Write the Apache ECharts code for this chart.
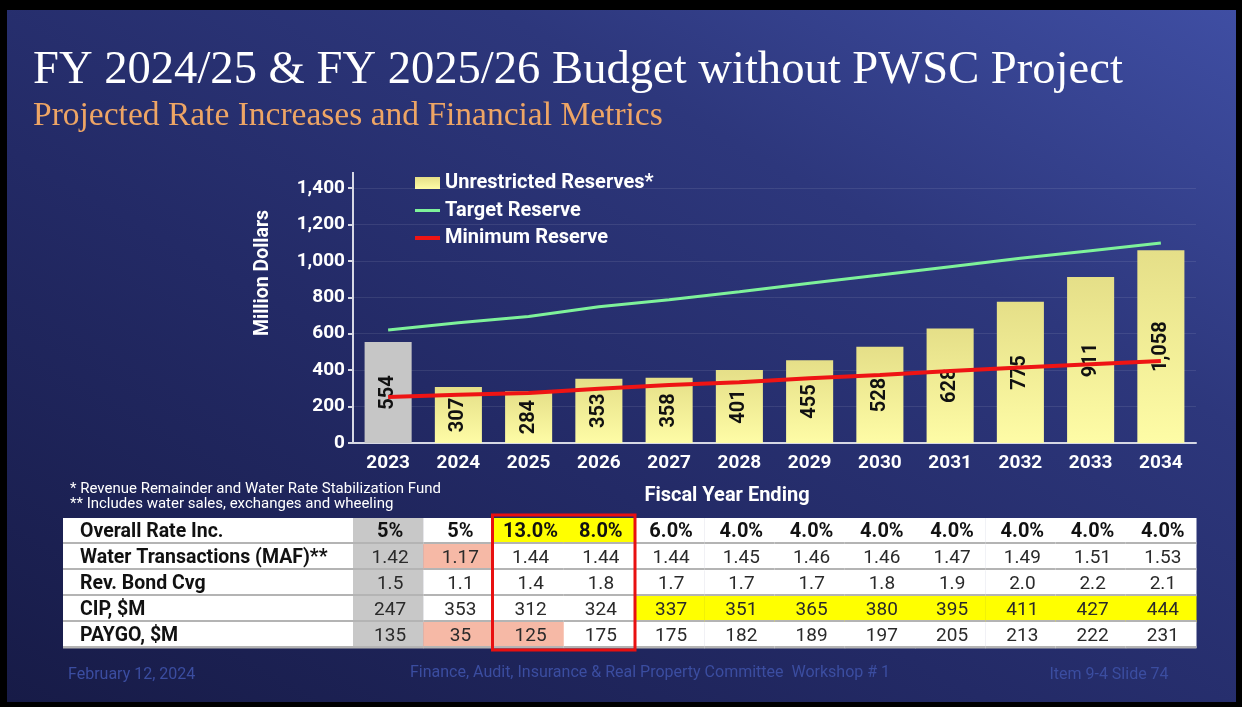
<!DOCTYPE html>
<html>
<head>
<meta charset="utf-8">
<title>Budget without PWSC Project</title>
<script src="https://cdn.jsdelivr.net/npm/echarts@6/dist/echarts.min.js"></script>
<style>
  html, body { margin: 0; padding: 0; background: #000; }
  #wrap { position: relative; width: 1242px; height: 707px; background: #000; overflow: hidden; }
  #slide {
    position: absolute; left: 7px; top: 10px; width: 1229px; height: 692px;
    background: linear-gradient(to top right, #171b47 0%, #232a66 40%, #2d377c 70%, #3f4ea3 100%);
  }
  #main { position: absolute; left: 0; top: 0; width: 1242px; height: 707px; }
</style>
</head>
<body>
<div id="wrap">
  <div id="slide"></div>
  <div id="main"></div>
</div>
<script>
// fiscal years on the x axis (and table columns)
const years = ["2023", "2024", "2025", "2026", "2027", "2028", "2029", "2030", "2031", "2032", "2033", "2034"];

// million dollars
const unrestrictedReserves = [554, 307, 284, 353, 358, 401, 455, 528, 628, 775, 911, 1058];
const targetReserve = [620, 660, 694, 748, 786, 831, 877, 922, 968, 1014, 1056, 1098];
const minimumReserve = [253, 265, 274, 298, 318, 333, 355, 373, 395, 415, 433, 450];

const yTicks = { min: 0, max: 1400, interval: 200 };

// table below the chart
const rowNames = ["Overall Rate Inc.", "Water Transactions (MAF)**", "Rev. Bond Cvg", "CIP, $M", "PAYGO, $M"];
const rateIncrease = ["5%", "5%", "13.0%", "8.0%", "6.0%", "4.0%", "4.0%", "4.0%", "4.0%", "4.0%", "4.0%", "4.0%"];
const waterTransactions = ["1.42", "1.17", "1.44", "1.44", "1.44", "1.45", "1.46", "1.46", "1.47", "1.49", "1.51", "1.53"];
const bondCoverage = ["1.5", "1.1", "1.4", "1.8", "1.7", "1.7", "1.7", "1.8", "1.9", "2.0", "2.2", "2.1"];
const cip = [247, 353, 312, 324, 337, 351, 365, 380, 395, 411, 427, 444];
const paygo = [135, 35, 125, 175, 175, 182, 189, 197, 205, 213, 222, 231];
const tableRows = [rateIncrease, waterTransactions, bondCoverage, cip, paygo];

// budget years boxed in red
const budgetYears = ["2025", "2026"];

// cell shading
const GRAY = "#c8c8c8", SALMON = "#f6b9a6", YELLOW = "#ffff00";
function cellFill(row, col) {
  if (col === 0) return GRAY;
  if (row === 0 && (col === 2 || col === 3)) return YELLOW;
  if (row === 3 && col >= 4) return YELLOW;
  if ((row === 1 && col === 1) || (row === 4 && (col === 1 || col === 2))) return SALMON;
  return "#ffffff";
}

const TABLE_LEFT = 63;
const FONT = "Roboto";

const fmt = v => String(v).replace(/\B(?=(\d{3})+(?!\d))/g, ",");

const cells = [];
tableRows.forEach((r, ri) => r.forEach((_, ci) => cells.push([ci, ri])));

function renderCell(params, api) {
  const col = api.value(0), row = api.value(1);
  const c = api.coord([col, row]);
  const s = api.size([1, 1]);
  const x0 = c[0] - s[0] / 2, y0 = c[1] - s[1] / 2;
  const kids = [];
  if (col === 0) {
    kids.push({ type: "rect", shape: { x: TABLE_LEFT, y: y0, width: x0 - TABLE_LEFT + 1, height: s[1] }, style: { fill: "#fff" } });
    kids.push({ type: "text", style: { text: rowNames[row], x: TABLE_LEFT + 17, y: c[1] + 1, align: "left", verticalAlign: "middle", font: "bold 19.5px " + FONT, fill: "#111" } });
    kids.push({ type: "rect", shape: { x: TABLE_LEFT, y: y0 + s[1] - 2, width: x0 - TABLE_LEFT, height: 2.5 }, style: { fill: "#b4b4b4" } });
  }
  kids.push({ type: "rect", shape: { x: x0, y: y0, width: s[0] + 0.5, height: s[1] }, style: { fill: cellFill(row, col) } });
  kids.push({
    type: "text",
    style: {
      text: String(tableRows[row][col]), x: c[0] + 2, y: c[1] + 1, align: "center", verticalAlign: "middle",
      font: (row === 0 ? "bold 20px " : "19px ") + FONT, fill: row === 0 ? "#111" : "#2a2a2a"
    }
  });
  kids.push({ type: "rect", shape: { x: x0, y: y0 + s[1] - 2, width: s[0] + 0.5, height: 2.5 }, style: { fill: "#b4b4b4" } });
  return { type: "group", children: kids };
}

function renderBox(params, api) {
  const a = api.coord([api.value(0), api.value(1)]);
  const b = api.coord([api.value(2), api.value(3)]);
  const s = api.size([1, 1]);
  const x = a[0] - s[0] / 2, y = a[1] - s[1] / 2;
  return {
    type: "rect",
    shape: { x: x - 1, y: y - 3, width: b[0] - a[0] + s[0] + 2, height: b[1] - a[1] + s[1] + 5 },
    style: { fill: null, stroke: "#e81010", lineWidth: 3 }
  };
}

const chart = echarts.init(document.getElementById("main"));

const whiteBold = { color: "#fff", fontWeight: "bold", fontSize: 19, fontFamily: FONT };

const option = {
  animation: false,
  title: [
    {
      text: "FY 2024/25 & FY 2025/26 Budget without PWSC Project",
      left: 33, top: 47, padding: 0,
      textStyle: { color: "#fff", fontFamily: "Liberation Serif", fontWeight: "normal", fontSize: 46.6 }
    },
    {
      text: "Projected Rate Increases and Financial Metrics",
      left: 33, top: 99, padding: 0,
      textStyle: { color: "#eea565", fontFamily: "Liberation Serif", fontWeight: "normal", fontSize: 33.5 }
    }
  ],
  legend: {
    orient: "vertical",
    left: 415, top: 173, padding: 0,
    itemWidth: 25, itemHeight: 12, itemGap: 7.5,
    textStyle: Object.assign({}, whiteBold, { fontSize: 20 }),
    data: [
      { name: "Unrestricted Reserves*", icon: "rect" },
      { name: "Target Reserve", icon: "path://M0,0H25V3H0Z" },
      { name: "Minimum Reserve", icon: "path://M0,0H25V4H0Z" }
    ]
  },
  grid: [
    { left: 353, right: 46, top: 188, bottom: 264 },
    { left: 353, right: 46, top: 518, bottom: 59 }
  ],
  xAxis: [
    {
      type: "category", gridIndex: 0, data: years,
      axisLine: { lineStyle: { color: "#d6d8e4", width: 2 } },
      axisTick: { length: 6, lineStyle: { color: "#d6d8e4", width: 2 } },
      axisLabel: Object.assign({ margin: 11 }, whiteBold)
    },
    { type: "category", gridIndex: 1, data: years, show: false }
  ],
  yAxis: [
    {
      type: "value", gridIndex: 0,
      min: yTicks.min, max: yTicks.max, interval: yTicks.interval,
      axisLine: { show: true, lineStyle: { color: "#d6d8e4", width: 2 } },
      axisTick: { show: true, length: 5, lineStyle: { color: "#d6d8e4", width: 2 } },
      axisLabel: Object.assign({ margin: 8, formatter: fmt }, whiteBold),
      splitLine: { lineStyle: { color: "rgba(255,255,255,0.09)", width: 1 } }
    },
    { type: "category", gridIndex: 1, data: rowNames, inverse: true, show: false }
  ],
  series: [
    {
      name: "Unrestricted Reserves*",
      type: "bar",
      barWidth: "67%",
      data: unrestrictedReserves.map((v, i) => i === 0 ? { value: v, itemStyle: { color: "#c6c6c6" } } : v),
      itemStyle: {
        color: new echarts.graphic.LinearGradient(0, 0, 0, 1, [
          { offset: 0, color: "#e5df88" },
          { offset: 1, color: "#fefca6" }
        ])
      },
      label: {
        show: true, position: "inside", rotate: 90, formatter: p => fmt(p.value),
        color: "#111", fontWeight: "bold", fontSize: 20, fontFamily: FONT
      },
      z: 2
    },
    {
      name: "Target Reserve",
      type: "line",
      data: targetReserve,
      symbol: "none",
      lineStyle: { color: "#7ef29a", width: 3 },
      itemStyle: { color: "#7ef29a" },
      z: 3
    },
    {
      name: "Minimum Reserve",
      type: "line",
      data: minimumReserve,
      symbol: "none",
      lineStyle: { color: "#ee1414", width: 4 },
      itemStyle: { color: "#ee1414" },
      z: 4
    },
    {
      type: "custom",
      xAxisIndex: 1, yAxisIndex: 1,
      data: cells,
      encode: { x: 0, y: 1 },
      renderItem: renderCell,
      silent: true,
      z: 5
    },
    {
      type: "custom",
      xAxisIndex: 1, yAxisIndex: 1,
      data: [[years.indexOf(budgetYears[0]), 0, years.indexOf(budgetYears[1]), rowNames.length - 1]],
      encode: { x: [0, 2], y: [1, 3] },
      renderItem: renderBox,
      silent: true,
      z: 6
    }
  ],
  graphic: [
    {
      type: "line", shape: { x1: 353, y1: 188, x2: 353, y2: 172 }, silent: true,
      style: { stroke: "#d6d8e4", lineWidth: 2 }
    },
    {
      type: "text", x: 263, y: 273, rotation: Math.PI / 2,
      style: { text: "Million Dollars", align: "center", verticalAlign: "middle", font: "bold 19.5px " + FONT, fill: "#fff" }
    },
    {
      type: "text", x: 727, y: 496,
      style: { text: "Fiscal Year Ending", align: "center", verticalAlign: "middle", font: "bold 20px " + FONT, fill: "#fff" }
    },
    {
      type: "text", x: 70, y: 489,
      style: { text: "* Revenue Remainder and Water Rate Stabilization Fund", verticalAlign: "middle", font: "15px " + FONT, fill: "#fff" }
    },
    {
      type: "text", x: 70, y: 504,
      style: { text: "** Includes water sales, exchanges and wheeling", verticalAlign: "middle", font: "15px " + FONT, fill: "#fff" }
    },
    {
      type: "text", x: 68, y: 675,
      style: { text: "February 12, 2024", verticalAlign: "middle", font: "16px " + FONT, fill: "#3b4da0" }
    },
    {
      type: "text", x: 650, y: 673,
      style: { text: "Finance, Audit, Insurance & Real Property Committee  Workshop # 1", align: "center", verticalAlign: "middle", font: "16px " + FONT, fill: "#3b4da0" }
    },
    {
      type: "text", x: 1109, y: 675,
      style: { text: "Item 9-4 Slide 74", align: "center", verticalAlign: "middle", font: "16px " + FONT, fill: "#3b4da0" }
    }
  ]
};

chart.setOption(option);
</script>
</body>
</html>
